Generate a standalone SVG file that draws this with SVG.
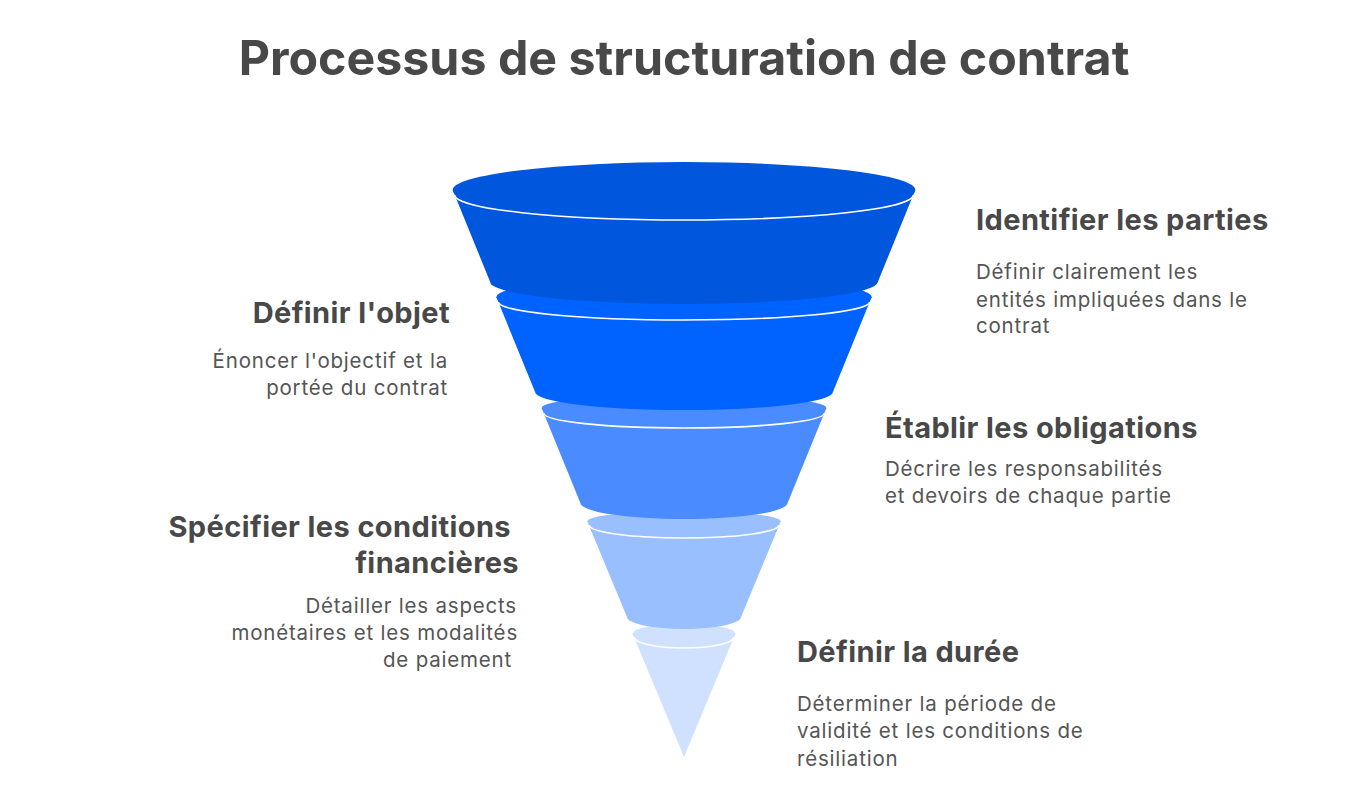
<svg xmlns="http://www.w3.org/2000/svg" width="1368" height="803" viewBox="0 0 1368 803">
<style>
.title{font-family:Inter,"Liberation Sans",sans-serif;font-weight:700;font-size:48.3px;fill:#484848}
.h{font-family:Inter,"Liberation Sans",sans-serif;font-weight:700;font-size:29px;letter-spacing:0.4px;fill:#484848}
.d{font-family:Inter,"Liberation Sans",sans-serif;font-weight:400;font-size:20.5px;letter-spacing:0.8px;fill:#555555}
.r{text-anchor:end}
.wl{fill:none;stroke:#ffffff;stroke-width:1.6}
</style>
<rect width="1368" height="803" fill="#ffffff"/>
<text class="title" x="684" y="75" text-anchor="middle">Processus de structuration de contrat</text>

<g id="funnel">
  <g id="seg5">
    <path d="M632.3,633 L684,757 L735.7,633 Z" fill="#d0e1ff"/>
    <ellipse cx="684" cy="633" rx="50.6" ry="9" fill="#d0e1ff"/>
    <path class="wl" d="M634.3,637 A49.7,11 0 0 0 733.7,637"/>
  </g>
  <g id="seg4">
    <path d="M587.1,521 L627,617 A57,12 0 0 0 741,617 L780.9,521 Z" fill="#99bfff"/>
    <ellipse cx="684" cy="521" rx="96.3" ry="10" fill="#99bfff"/>
    <path class="wl" d="M589.3,525 A94.7,13 0 0 0 778.7,525"/>
  </g>
  <g id="seg3">
    <path d="M541.6,408 L580.4,503 A103.6,16 0 0 0 787.6,503 L826.4,408 Z" fill="#4a8cff"/>
    <ellipse cx="684" cy="408" rx="142.4" ry="14" fill="#4a8cff"/>
    <path class="wl" d="M543.6,413 A140.4,15 0 0 0 824.4,413"/>
  </g>
  <g id="seg2">
    <path d="M496.3,297 L535.1,392 A148.9,18 0 0 0 832.9,392 L871.7,297 Z" fill="#0062ff"/>
    <ellipse cx="684" cy="297" rx="187.7" ry="20" fill="#0062ff"/>
    <path class="wl" d="M498.4,302 A185.6,18 0 0 0 869.6,302"/>
  </g>
  <g id="seg1">
    <path d="M452.7,190 L490.2,282 A193.8,22 0 0 0 877.8,282 L915.3,190 Z" fill="#0057de"/>
    <ellipse cx="684" cy="190" rx="231.3" ry="28" fill="#0057de"/>
    <path class="wl" d="M454.7,195 A229.3,25 0 0 0 913.3,195"/>
  </g>
</g>

<g id="step1">
  <text class="h" x="976" y="230">Identifier les parties</text>
  <text class="d" x="976" y="279">Définir clairement les</text>
  <text class="d" x="976" y="307">entités impliquées dans le</text>
  <text class="d" x="976" y="333">contrat</text>
</g>
<g id="step2">
  <text class="h r" x="450" y="323">Définir l'objet</text>
  <text class="d r" x="448" y="368">Énoncer l'objectif et la</text>
  <text class="d r" x="448" y="395">portée du contrat</text>
</g>
<g id="step3">
  <text class="h" x="885" y="438">Établir les obligations</text>
  <text class="d" x="885" y="476">Décrire les responsabilités</text>
  <text class="d" x="885" y="503">et devoirs de chaque partie</text>
</g>
<g id="step4">
  <text class="h r" x="511" y="537">Spécifier les conditions</text>
  <text class="h r" x="519" y="573">financières</text>
  <text class="d r" x="517" y="613">Détailler les aspects</text>
  <text class="d r" x="518" y="640">monétaires et les modalités</text>
  <text class="d r" x="512" y="667">de paiement</text>
</g>
<g id="step5">
  <text class="h" x="797" y="662">Définir la durée</text>
  <text class="d" x="797" y="711">Déterminer la période de</text>
  <text class="d" x="797" y="738">validité et les conditions de</text>
  <text class="d" x="797" y="766">résiliation</text>
</g>
</svg>
